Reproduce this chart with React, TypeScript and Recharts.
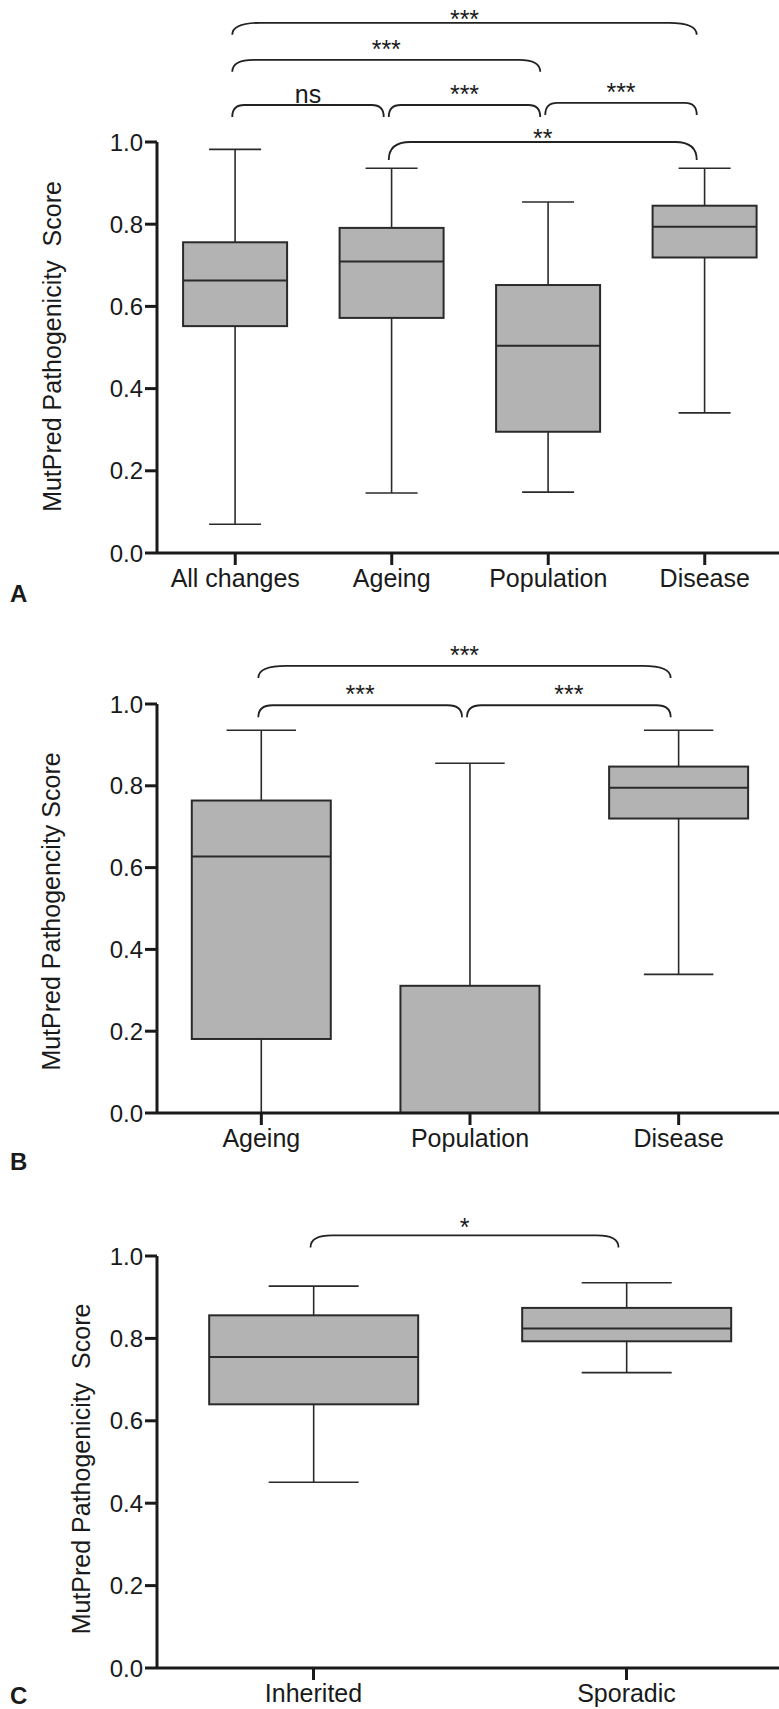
import { Bar, ComposedChart, Label, ReferenceLine, XAxis, YAxis } from "recharts"

// panel A
const categoriesA = ["All changes", "Ageing", "Population", "Disease"]
const minA = [0.07, 0.146, 0.148, 0.341]
const q1A = [0.552, 0.572, 0.295, 0.719]
const medianA = [0.663, 0.709, 0.504, 0.794]
const q3A = [0.756, 0.791, 0.652, 0.845]
const maxA = [0.982, 0.936, 0.854, 0.936]

// panel B
const categoriesB = ["Ageing", "Population", "Disease"]
const minB = [0, 0, 0.339]
const q1B = [0.181, 0, 0.72]
const medianB = [0.627, 0, 0.795]
const q3B = [0.764, 0.311, 0.847]
const maxB = [0.936, 0.855, 0.936]

// panel C
const categoriesC = ["Inherited", "Sporadic"]
const minC = [0.451, 0.717]
const q1C = [0.64, 0.793]
const medianC = [0.755, 0.824]
const q3C = [0.856, 0.874]
const maxC = [0.927, 0.935]

const yTicks = [0, 0.2, 0.4, 0.6, 0.8, 1.0]

// significance brackets: level is in score units
const bracketsA = [
  { from: "All changes", to: "Disease", level: 1.29, label: "***", textDy: 5 },
  { from: "All changes", to: "Population", level: 1.2, label: "***" },
  { from: "All changes", to: "Ageing", level: 1.09, label: "ns" },
  { from: "Ageing", to: "Population", level: 1.09, label: "***" },
  { from: "Population", to: "Disease", level: 1.095, label: "***" },
  { from: "Ageing", to: "Disease", level: 1.0, label: "**", textDy: 5, drop: 18 },
]
const bracketsB = [
  { from: "Ageing", to: "Disease", level: 1.093, label: "***" },
  { from: "Ageing", to: "Population", level: 0.997, label: "***" },
  { from: "Population", to: "Disease", level: 0.997, label: "***" },
]
const bracketsC = [{ from: "Inherited", to: "Sporadic", level: 1.05, label: "*", textDy: 1 }]

const FONT = "'Liberation Sans', Arial, Helvetica, sans-serif"
const INK = "#1a1a1a"

function buildRows(cats: string[], mins: number[], q1s: number[], meds: number[], q3s: number[], maxs: number[]) {
  return cats.map((name, i) => ({
    name,
    min: mins[i],
    q1: q1s[i],
    median: meds[i],
    q3: q3s[i],
    max: maxs[i],
    range: [q1s[i], q3s[i]],
  }))
}

function BoxShape(props: any) {
  const { x, y, width, height, payload } = props
  const top = Math.min(y, y + height)
  const bottom = Math.max(y, y + height)
  const { q1, q3, min, median, max } = payload
  const perUnit = (bottom - top) / (q3 - q1)
  const toY = (v: number) => bottom - (v - q1) * perUnit
  const cx = x + width / 2
  const cap = Math.min(width * 0.5, 90)
  return (
    <g>
      <line x1={cx} x2={cx} y1={toY(max)} y2={top} stroke="#2a2a2a" strokeWidth={1.6} />
      <line x1={cx} x2={cx} y1={bottom} y2={toY(min)} stroke="#2a2a2a" strokeWidth={1.6} />
      <line x1={cx - cap / 2} x2={cx + cap / 2} y1={toY(max)} y2={toY(max)} stroke="#2a2a2a" strokeWidth={1.6} />
      <line x1={cx - cap / 2} x2={cx + cap / 2} y1={toY(min)} y2={toY(min)} stroke="#2a2a2a" strokeWidth={1.6} />
      <rect x={x} y={top} width={width} height={bottom - top} fill="#b3b3b3" stroke="#2a2a2a" strokeWidth={2} />
      <line x1={x} x2={x + width} y1={toY(median)} y2={toY(median)} stroke="#2a2a2a" strokeWidth={2} />
    </g>
  )
}

function bracketShape(b: any) {
  return (p: any) => {
    const x1 = p.x1 - 3
    const x2 = p.x2 - 8
    const yTop = p.y1
    const drop = b.drop ?? 12
    const r = Math.max(12, Math.min(28, (x2 - x1) * 0.07))
    const d = `M${x1},${yTop + drop} Q${x1},${yTop} ${x1 + r},${yTop} L${x2 - r},${yTop} Q${x2},${yTop} ${x2},${yTop + drop}`
    return (
      <g>
        <path d={d} fill="none" stroke="#222" strokeWidth={1.8} />
        <text
          x={(x1 + x2) / 2}
          y={yTop + (b.textDy ?? -2)}
          textAnchor="middle"
          fontSize={25}
          fontFamily={FONT}
          fill={INK}
        >
          {b.label}
        </text>
      </g>
    )
  }
}

function titleContent(text: string, baselineX: number, dy: number) {
  return (p: any) => {
    const vb = p.viewBox
    const cy = vb.y + vb.height / 2 + dy
    return (
      <text
        x={baselineX}
        y={cy}
        transform={`rotate(-90 ${baselineX} ${cy})`}
        textAnchor="middle"
        fontSize={25}
        fontFamily={FONT}
        fill={INK}
        style={{ whiteSpace: "pre" }}
      >
        {text}
      </text>
    )
  }
}

function Panel(props: {
  top: number
  height: number
  marginTop: number
  marginBottom: number
  rows: any[]
  brackets: any[]
  title: string
  titleX: number
  titleDy: number
}) {
  const { top, height, marginTop, marginBottom, rows, brackets, title, titleX, titleDy } = props
  return (
    <div style={{ position: "absolute", left: 0, top, width: 779, height, overflow: "hidden" }}>
      <ComposedChart
        width={783}
        height={height}
        data={rows}
        margin={{ top: marginTop, right: 0, bottom: marginBottom, left: 57 }}
        barCategoryGap="16.67%"
        style={{ fontFamily: FONT }}
      >
        <XAxis
          dataKey="name"
          height={40}
          tickSize={12}
          tickMargin={4}
          tick={{ fontSize: 25, fill: INK, fontFamily: FONT }}
          axisLine={{ stroke: INK, strokeWidth: 3 }}
          tickLine={{ stroke: INK, strokeWidth: 3 }}
          interval={0}
        />
        <YAxis
          type="number"
          domain={[0, 1]}
          ticks={yTicks}
          width={100}
          tickSize={12}
          tickMargin={2}
          tickFormatter={(v: number) => v.toFixed(1)}
          tick={{ fontSize: 24, fill: INK, fontFamily: FONT }}
          axisLine={{ stroke: INK, strokeWidth: 3 }}
          tickLine={{ stroke: INK, strokeWidth: 3 }}
        >
          <Label content={titleContent(title, titleX, titleDy)} />
        </YAxis>
        <Bar dataKey="range" isAnimationActive={false} shape={(p: any) => <BoxShape {...p} />} />
        {brackets.map((b, i) => (
          <ReferenceLine
            key={i}
            segment={[
              { x: b.from, y: b.level },
              { x: b.to, y: b.level },
            ]}
            ifOverflow="visible"
            shape={bracketShape(b)}
          />
        ))}
      </ComposedChart>
    </div>
  )
}

export default function App() {
  const rowsA = buildRows(categoriesA, minA, q1A, medianA, q3A, maxA)
  const rowsB = buildRows(categoriesB, minB, q1B, medianB, q3B, maxB)
  const rowsC = buildRows(categoriesC, minC, q1C, medianC, q3C, maxC)
  return (
    <div style={{ position: "absolute", left: 0, top: 0, width: 779, height: 1709, background: "#fff", fontFamily: FONT }}>
      <Panel
        top={0}
        height={610}
        marginTop={142}
        marginBottom={17}
        rows={rowsA}
        brackets={bracketsA}
        title="MutPred Pathogenicity  Score"
        titleX={61}
        titleDy={-1}
      />
      <Panel
        top={610}
        height={570}
        marginTop={94}
        marginBottom={27}
        rows={rowsB}
        brackets={bracketsB}
        title="MutPred Pathogencity Score"
        titleX={60}
        titleDy={3}
      />
      <Panel
        top={1180}
        height={529}
        marginTop={76}
        marginBottom={1}
        rows={rowsC}
        brackets={bracketsC}
        title="MutPred Pathogenicity  Score"
        titleX={90}
        titleDy={7}
      />
      <svg width={779} height={1709} style={{ position: "absolute", left: 0, top: 0, pointerEvents: "none" }}>
        <text x={10} y={602} fontSize={24} fontWeight="bold" fontFamily={FONT} fill={INK}>A</text>
        <text x={10} y={1170} fontSize={24} fontWeight="bold" fontFamily={FONT} fill={INK}>B</text>
        <text x={10} y={1704} fontSize={24} fontWeight="bold" fontFamily={FONT} fill={INK}>C</text>
      </svg>
    </div>
  )
}
